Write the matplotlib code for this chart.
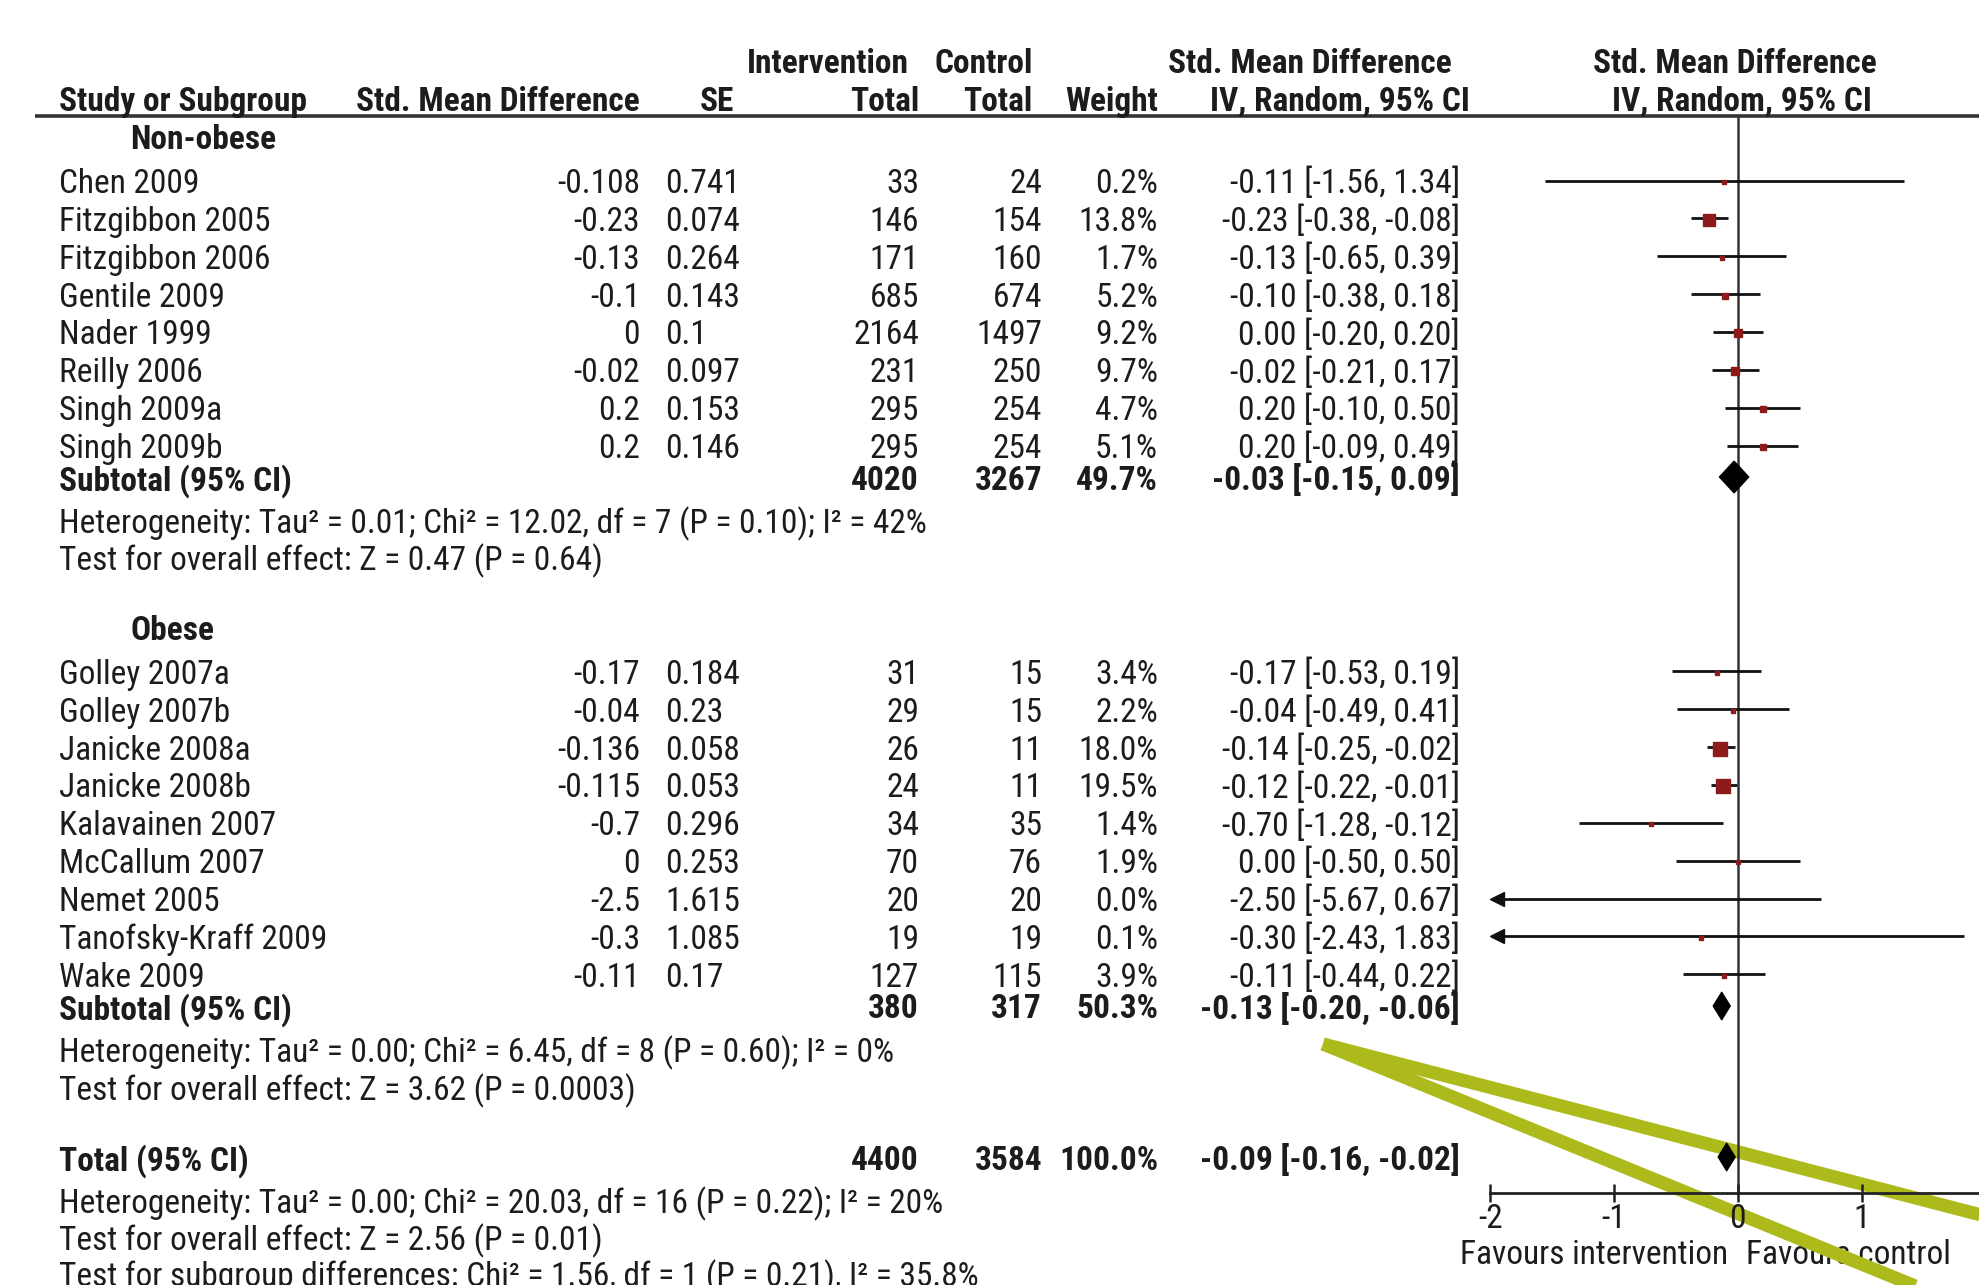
import matplotlib
matplotlib.use("Agg")
import matplotlib.pyplot as plt
from matplotlib import font_manager
from matplotlib.patches import Polygon
import math

# ---------------- data ----------------
group_names = ["Non-obese", "Obese"]

nonobese_studies = ["Chen 2009", "Fitzgibbon 2005", "Fitzgibbon 2006", "Gentile 2009",
                    "Nader 1999", "Reilly 2006", "Singh 2009a", "Singh 2009b"]
nonobese_smd = [-0.108, -0.23, -0.13, -0.1, 0, -0.02, 0.2, 0.2]
nonobese_se = [0.741, 0.074, 0.264, 0.143, 0.1, 0.097, 0.153, 0.146]
nonobese_int_total = [33, 146, 171, 685, 2164, 231, 295, 295]
nonobese_ctl_total = [24, 154, 160, 674, 1497, 250, 254, 254]
nonobese_weight = [0.2, 13.8, 1.7, 5.2, 9.2, 9.7, 4.7, 5.1]
nonobese_est = [-0.11, -0.23, -0.13, -0.10, 0.00, -0.02, 0.20, 0.20]
nonobese_lo = [-1.56, -0.38, -0.65, -0.38, -0.20, -0.21, -0.10, -0.09]
nonobese_hi = [1.34, -0.08, 0.39, 0.18, 0.20, 0.17, 0.50, 0.49]

obese_studies = ["Golley 2007a", "Golley 2007b", "Janicke 2008a", "Janicke 2008b",
                 "Kalavainen 2007", "McCallum 2007", "Nemet 2005", "Tanofsky-Kraff 2009",
                 "Wake 2009"]
obese_smd = [-0.17, -0.04, -0.136, -0.115, -0.7, 0, -2.5, -0.3, -0.11]
obese_se = [0.184, 0.23, 0.058, 0.053, 0.296, 0.253, 1.615, 1.085, 0.17]
obese_int_total = [31, 29, 26, 24, 34, 70, 20, 19, 127]
obese_ctl_total = [15, 15, 11, 11, 35, 76, 20, 19, 115]
obese_weight = [3.4, 2.2, 18.0, 19.5, 1.4, 1.9, 0.0, 0.1, 3.9]
obese_est = [-0.17, -0.04, -0.14, -0.12, -0.70, 0.00, -2.50, -0.30, -0.11]
obese_lo = [-0.53, -0.49, -0.25, -0.22, -1.28, -0.50, -5.67, -2.43, -0.44]
obese_hi = [0.19, 0.41, -0.02, -0.01, -0.12, 0.50, 0.67, 1.83, 0.22]

subtotal_int = [4020, 380]
subtotal_ctl = [3267, 317]
subtotal_weight = [49.7, 50.3]
subtotal_est = [-0.03, -0.13]
subtotal_lo = [-0.15, -0.20]
subtotal_hi = [0.09, -0.06]

total_int = 4400
total_ctl = 3584
total_weight = 100.0
total_est = -0.09
total_lo = -0.16
total_hi = -0.02

group_het = ["Heterogeneity: Tau\u00b2 = 0.01; Chi\u00b2 = 12.02, df = 7 (P = 0.10); I\u00b2 = 42%",
             "Heterogeneity: Tau\u00b2 = 0.00; Chi\u00b2 = 6.45, df = 8 (P = 0.60); I\u00b2 = 0%"]
group_test = ["Test for overall effect: Z = 0.47 (P = 0.64)",
              "Test for overall effect: Z = 3.62 (P = 0.0003)"]
total_notes = ["Heterogeneity: Tau\u00b2 = 0.00; Chi\u00b2 = 20.03, df = 16 (P = 0.22); I\u00b2 = 20%",
               "Test for overall effect: Z = 2.56 (P = 0.01)",
               "Test for subgroup differences: Chi\u00b2 = 1.56, df = 1 (P = 0.21), I\u00b2 = 35.8%"]

axis_ticks = [-2, -1, 0, 1, 2]
favour_labels = ["Favours intervention", "Favours control"]

# ---------------- font choice ----------------
_ttf = font_manager.fontManager.ttflist
_names = {f.name for f in _ttf}
_cond = {f.name for f in _ttf if str(f.stretch) in ("condensed", "semi-condensed", "extra-condensed")}
FONT_KW = None
for cand in ["Liberation Sans Narrow", "Roboto Condensed", "Open Sans Condensed", "Noto Sans Condensed"]:
    if cand in _names:
        FONT_KW = dict(family=[cand, "DejaVu Sans"])
        FS = 24
        break
if FONT_KW is None:
    if "DejaVu Sans" in _cond:
        FONT_KW = dict(family=["DejaVu Sans"], stretch="condensed")
        FS = 21
    else:
        FONT_KW = dict(family=["Liberation Sans", "DejaVu Sans"])
        FS = 20.3

TXT = "#1c1c1c"
RED = "#8e1b1b"
LIME = "#adba1c"

W, H = 1979, 1285
fig = plt.figure(figsize=(W / 100, H / 100), dpi=100)
fig.patch.set_facecolor("white")
ax = fig.add_axes([0, 0, 1, 1])
ax.set_xlim(0, W)
ax.set_ylim(H, 0)
ax.axis("off")

# column anchors (pixels)
X_NAME = 59
X_GROUP = 130
X_SMD = 640
X_SE = 665
X_INT = 919
X_CTL = 1042
X_WT = 1158
X_CI = 1460

# row layout (pixels)
Y_HEAD1, Y_HEAD2, Y_RULE = 60.5, 98.5, 116
STEP = 37.86
Y_GROUP = [136.3, 627]
Y_FIRST = [180.5, 671.4]
Y_SUB = [477, 1006]
Y_HET = [520, 1049]
Y_TEST = [556.5, 1086.5]
Y_TOTAL = 1157
Y_TOTAL_NOTES = [1200, 1237, 1273]

# forest axes geometry
X0_PX, UNIT_PX = 1737.8, 123.7
Y_AXIS = 1192.6
left_px = X0_PX - 2 * UNIT_PX
right_px = X0_PX + 2 * UNIT_PX
fax = fig.add_axes([left_px / W, (H - Y_AXIS) / H, (right_px - left_px) / W, (Y_AXIS - Y_RULE) / H])
fax.set_xlim(-2, 2)
fax.set_ylim(Y_AXIS, Y_RULE)
fax.patch.set_alpha(0)
for s in ["top", "left", "right"]:
    fax.spines[s].set_visible(False)
fax.spines["bottom"].set_linewidth(2.0)
fax.spines["bottom"].set_color("#222222")
fax.set_yticks([])
fax.set_xticks(axis_ticks)
fax.set_xticklabels([f"{t:g}" for t in axis_ticks], fontsize=FS, color=TXT, **FONT_KW)
fax.tick_params(axis="x", direction="inout", length=13, width=1.8, color="#222222", pad=1)
fax.axvline(0, color="#333333", lw=1.8, zorder=1)


def t(x, y, s, ha="left", bold=False):
    ax.text(x, y, s, ha=ha, va="center_baseline", fontsize=FS, color=TXT,
            fontweight="bold" if bold else "normal", **FONT_KW)


# header
t(909, Y_HEAD1, "Intervention", ha="right", bold=True)
t(934, Y_HEAD1, "Control", ha="left", bold=True)
t(1310, Y_HEAD1, "Std. Mean Difference", ha="center", bold=True)
t(1735, Y_HEAD1, "Std. Mean Difference", ha="center", bold=True)
t(X_NAME, Y_HEAD2, "Study or Subgroup", bold=True)
t(X_SMD, Y_HEAD2, "Std. Mean Difference", ha="right", bold=True)
t(734, Y_HEAD2, "SE", ha="right", bold=True)
t(X_INT, Y_HEAD2, "Total", ha="right", bold=True)
t(1032, Y_HEAD2, "Total", ha="right", bold=True)
t(X_WT, Y_HEAD2, "Weight", ha="right", bold=True)
t(1340, Y_HEAD2, "IV, Random, 95% CI", ha="center", bold=True)
t(1742, Y_HEAD2, "IV, Random, 95% CI", ha="center", bold=True)
ax.plot([35, W], [Y_RULE, Y_RULE], color="#333333", lw=2.6, solid_capstyle="butt")


def ci_text(e, lo, hi):
    f = lambda v: f"{v + 0.0:.2f}"
    return f"{f(e)} [{f(lo)}, {f(hi)}]"


def diamond(est, lo, hi, y, h=15):
    fax.add_patch(Polygon([(lo, y), (est, y - h), (hi, y), (est, y + h)], closed=True,
                          facecolor="black", edgecolor="black", lw=0.8, zorder=4))


groups = [
    (nonobese_studies, nonobese_smd, nonobese_se, nonobese_int_total, nonobese_ctl_total,
     nonobese_weight, nonobese_est, nonobese_lo, nonobese_hi),
    (obese_studies, obese_smd, obese_se, obese_int_total, obese_ctl_total,
     obese_weight, obese_est, obese_lo, obese_hi),
]

for g, (names, smd, se, ni, nc, wt, est, lo, hi) in enumerate(groups):
    t(X_GROUP, Y_GROUP[g], group_names[g], bold=True)
    for i in range(len(names)):
        y = Y_FIRST[g] + i * STEP
        t(X_NAME, y, names[i])
        t(X_SMD, y, f"{smd[i]:g}", ha="right")
        t(X_SE, y, f"{se[i]:g}")
        t(X_INT, y, f"{ni[i]}", ha="right")
        t(X_CTL, y, f"{nc[i]}", ha="right")
        t(X_WT, y, f"{wt[i]:.1f}%", ha="right")
        t(X_CI, y, ci_text(est[i], lo[i], hi[i]), ha="right")
        # forest marks
        if lo[i] < -2:
            fax.plot([-2 + 0.08, hi[i]], [y, y], color="#111111", lw=2.0, zorder=3,
                     solid_capstyle="butt", clip_on=False)
            fax.plot([-2 + 0.05], [y], marker="<", ms=10, color="#111111", zorder=3, clip_on=False)
        else:
            fax.plot([lo[i], min(hi[i], 2)], [y, y], color="#111111", lw=2.0, zorder=3,
                     solid_capstyle="butt", clip_on=False)
        if est[i] >= -2:
            ms = max(2.2, 10.5 * (wt[i] / 19.5) ** 0.7)
            fax.plot([est[i]], [y + 1.5], marker="s", ms=ms, color=RED, mec=RED, zorder=4)
    ys = Y_SUB[g]
    t(X_NAME, ys, "Subtotal (95% CI)", bold=True)
    t(X_INT, ys, f"{subtotal_int[g]}", ha="right", bold=True)
    t(X_CTL, ys, f"{subtotal_ctl[g]}", ha="right", bold=True)
    t(X_WT, ys, f"{subtotal_weight[g]:.1f}%", ha="right", bold=True)
    t(X_CI, ys, ci_text(subtotal_est[g], subtotal_lo[g], subtotal_hi[g]), ha="right", bold=True)
    diamond(subtotal_est[g], subtotal_lo[g], subtotal_hi[g], ys, h=16 if g == 0 else 14)
    t(X_NAME, Y_HET[g], group_het[g])
    t(X_NAME, Y_TEST[g], group_test[g])

# total
t(X_NAME, Y_TOTAL, "Total (95% CI)", bold=True)
t(X_INT, Y_TOTAL, f"{total_int}", ha="right", bold=True)
t(X_CTL, Y_TOTAL, f"{total_ctl}", ha="right", bold=True)
t(X_WT, Y_TOTAL, f"{total_weight:.1f}%", ha="right", bold=True)
t(X_CI, Y_TOTAL, ci_text(total_est, total_lo, total_hi), ha="right", bold=True)
diamond(total_est, total_lo, total_hi, Y_TOTAL, h=14)
for s, y in zip(total_notes, Y_TOTAL_NOTES):
    t(X_NAME, y, s)

# favours labels
t(1594, 1252, favour_labels[0], ha="center")
t(1848, 1252, favour_labels[1], ha="center")

# hand-drawn highlight strokes over the figure
stroke_start = (1323, 1044)
stroke_ends = [(1985, 1216), (1925, 1290)]
for ex, ey in stroke_ends:
    ax.plot([stroke_start[0], ex], [stroke_start[1], ey], color=LIME, lw=9.5,
            solid_capstyle="butt", zorder=10, clip_on=False)

fig.savefig("out.png", dpi=100, facecolor="white")
